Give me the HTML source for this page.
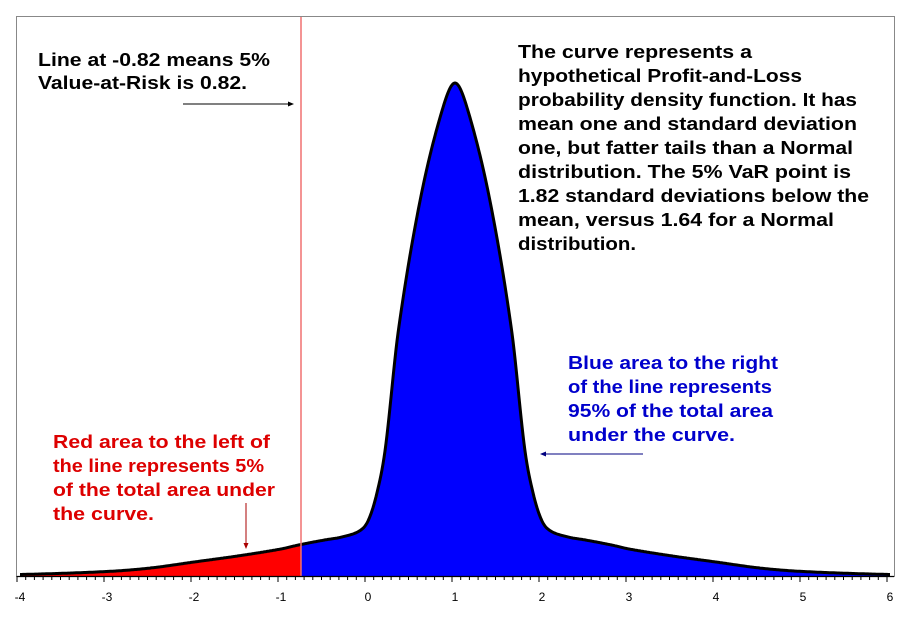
<!DOCTYPE html>
<html><head><meta charset="utf-8"><style>
body{margin:0;background:#fff;width:911px;height:620px;overflow:hidden}
svg{display:block}
text{font-family:"Liberation Sans",Arial,sans-serif}
.b{font-weight:bold;font-size:18px}
</style></head><body>
<svg id="s" width="911" height="620" xmlns="http://www.w3.org/2000/svg">
<rect x="16.5" y="16.5" width="878" height="560" fill="#fff" stroke="#888" stroke-width="1"/>
<g id="curve"></g>
<line x1="301" y1="17" x2="301" y2="576" stroke="#f07070" stroke-width="1.5"/>
<g id="axis"></g>
<g class="b" fill="#000" lengthAdjust="spacingAndGlyphs">
<text x="38" y="66" textLength="232" lengthAdjust="spacingAndGlyphs">Line at -0.82 means 5%</text>
<text x="38" y="89" textLength="209" lengthAdjust="spacingAndGlyphs">Value-at-Risk is 0.82.</text>
</g>
<line x1="183" y1="104" x2="290" y2="104" stroke="#000" stroke-width="1"/>
<path d="M294 104 L288 101.5 L288 106.5Z" fill="#000"/>
<g class="b" fill="#000">
<text x="518" y="58" textLength="234" lengthAdjust="spacingAndGlyphs">The curve represents a</text>
<text x="518" y="82" textLength="284" lengthAdjust="spacingAndGlyphs">hypothetical Profit-and-Loss</text>
<text x="518" y="106" textLength="339" lengthAdjust="spacingAndGlyphs">probability density function. It has</text>
<text x="518" y="130" textLength="339" lengthAdjust="spacingAndGlyphs">mean one and standard deviation</text>
<text x="518" y="154" textLength="335" lengthAdjust="spacingAndGlyphs">one, but fatter tails than a Normal</text>
<text x="518" y="178" textLength="333" lengthAdjust="spacingAndGlyphs">distribution. The 5% VaR point is</text>
<text x="518" y="202" textLength="351" lengthAdjust="spacingAndGlyphs">1.82 standard deviations below the</text>
<text x="518" y="226" textLength="316" lengthAdjust="spacingAndGlyphs">mean, versus 1.64 for a Normal</text>
<text x="518" y="250" textLength="118" lengthAdjust="spacingAndGlyphs">distribution.</text>
</g>
<g class="b" fill="#0000cc">
<text x="568" y="369" textLength="210" lengthAdjust="spacingAndGlyphs">Blue area to the right</text>
<text x="568" y="393" textLength="204" lengthAdjust="spacingAndGlyphs">of the line represents</text>
<text x="568" y="417" textLength="205" lengthAdjust="spacingAndGlyphs">95% of the total area</text>
<text x="568" y="441" textLength="167" lengthAdjust="spacingAndGlyphs">under the curve.</text>
</g>
<line x1="544" y1="454" x2="643" y2="454" stroke="#000080" stroke-width="1"/>
<path d="M540 454 L546 451.5 L546 456.5Z" fill="#000080"/>
<g class="b" fill="#dd0000">
<text x="53" y="448" textLength="217" lengthAdjust="spacingAndGlyphs">Red area to the left of</text>
<text x="53" y="472" textLength="211" lengthAdjust="spacingAndGlyphs">the line represents 5%</text>
<text x="53" y="496" textLength="222" lengthAdjust="spacingAndGlyphs">of the total area under</text>
<text x="53" y="520" textLength="101" lengthAdjust="spacingAndGlyphs">the curve.</text>
</g>
<line x1="246" y1="503" x2="246" y2="544" stroke="#aa0000" stroke-width="1"/>
<path d="M246 549 L243.5 543 L248.5 543Z" fill="#aa0000"/>
</svg>
<script>
var pts=[[0,493],[0.15,465],[0.4,376],[0.65,246],[0.8,128],[0.9,82],[1.0,55],[1.1,45],[1.3,39],[1.5,36],[1.8,31],[2.0,27],[2.5,20],[3,14],[3.5,8],[4,4.5],[5,1.5],[6,0.5]];
function h(d){d=Math.abs(d);for(var i=0;i<pts.length-1;i++){var a=pts[i],b=pts[i+1];if(d<=b[0]){var t=(d-a[0])/(b[0]-a[0]);var p0=pts[i-1]||[a[0]-(b[0]-a[0]),a[1]],p3=pts[i+2]||b;var m1=(b[1]-p0[1])/(b[0]-p0[0])*(b[0]-a[0]),m2=(p3[1]-a[1])/(p3[0]-a[0])*(b[0]-a[0]);if(i==0)m1=0;var t2=t*t,t3=t2*t;return (2*t3-3*t2+1)*a[1]+(t3-2*t2+t)*m1+(-2*t3+3*t2)*b[1]+(t3-t2)*m2;}}return 0;}
var X0=368,S=87,Y0=576;
function px(x){return X0+x*S}
var red="M"+px(-4)+" "+Y0,blue="M301 "+Y0,line="";
for(var p=px(-4);p<=px(6);p+=1){var x=(p-X0)/S,y=Y0-h(x-1);var s=p.toFixed(1)+" "+y.toFixed(1);line+=(line?" L":"M")+s;if(p<=301)red+=" L"+s;if(p>=301)blue+=" L"+s;}
var yr=Y0-h((301-X0)/S-1);red+=" L301 "+yr.toFixed(1)+" L301 "+Y0+"Z";blue+=" L"+px(6)+" "+Y0+"Z";
document.getElementById("curve").innerHTML='<path d="'+red+'" fill="#ff0000"/><path d="'+blue+'" fill="#0000ff"/><path d="'+line+'" fill="none" stroke="#000" stroke-width="3" stroke-linejoin="round"/>';
var a='<line x1="17" y1="576.5" x2="894" y2="576.5" stroke="#000" stroke-width="1.2"/>';
for(var i=0;i<=100;i++){var xx=17+i*8.7;a+='<line x1="'+xx+'" y1="576" x2="'+xx+'" y2="'+(i%10==0?582:580)+'" stroke="#000" stroke-width="1"/>';}
for(var k=-4;k<=6;k++){a+='<text x="'+px(k)+'" y="601" font-size="12" text-anchor="middle" fill="#000">'+k+'</text>';}
document.getElementById("axis").innerHTML=a;
</script>
</body></html>
